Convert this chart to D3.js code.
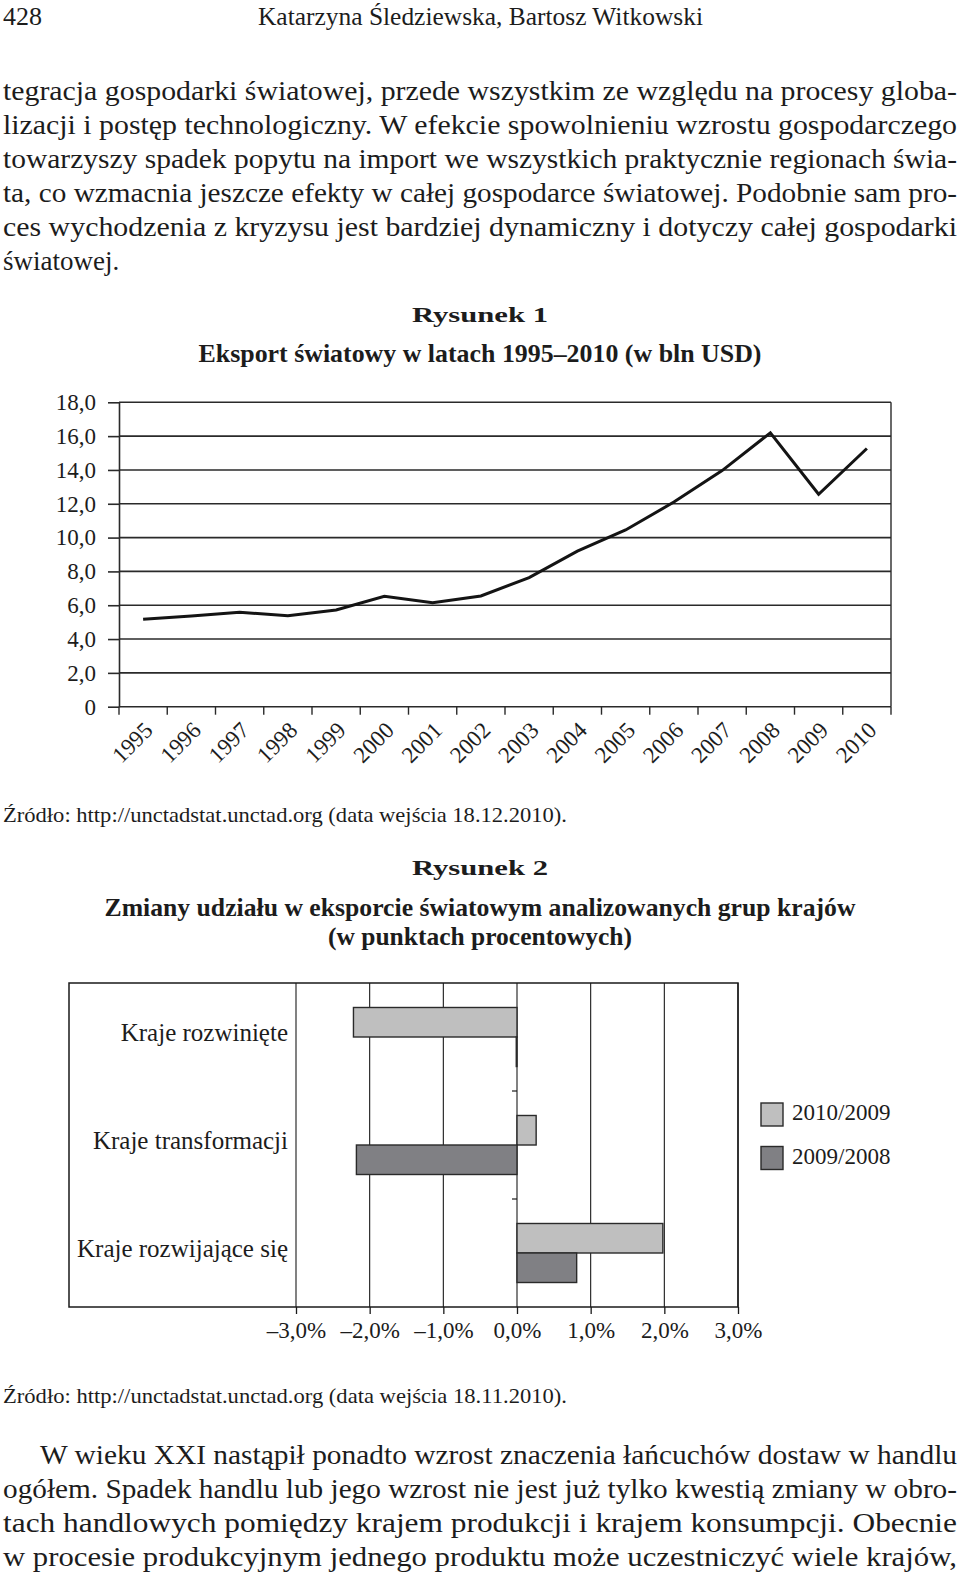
<!DOCTYPE html>
<html><head><meta charset="utf-8">
<script src="https://cdn.jsdelivr.net/npm/d3@7"></script>
<style>html,body{margin:0;padding:0;background:#fff}svg{display:block}</style>
</head><body><div id="page"></div>
<script>
// ---------- DATA ----------
const years = ["1995","1996","1997","1998","1999","2000","2001","2002","2003","2004","2005","2006","2007","2008","2009","2010"];
const exportValues = [5.17,5.36,5.58,5.38,5.72,6.53,6.15,6.55,7.63,9.2,10.45,12.1,13.96,16.2,12.56,15.27];
const yTicks1 = [0,2,4,6,8,10,12,14,16,18];
const yTickLabels1 = ["0","2,0","4,0","6,0","8,0","10,0","12,0","14,0","16,0","18,0"];

const groups = ["Kraje rozwinięte","Kraje transformacji","Kraje rozwijające się"];
const seriesNames = ["2010/2009","2009/2008"];
const change2010 = [-2.22, 0.26, 1.98];
const change2009 = [-0.01, -2.18, 0.81];
const xTicks2 = [-3,-2,-1,0,1,2,3];
const xTickLabels2 = ["–3,0%","–2,0%","–1,0%","0,0%","1,0%","2,0%","3,0%"];

const headerLeft = "428";
const headerCenter = "Katarzyna Śledziewska, Bartosz Witkowski";
const paraTop = [
 "tegracja gospodarki światowej, przede wszystkim ze względu na procesy globa-",
 "lizacji i postęp technologiczny. W efekcie spowolnieniu wzrostu gospodarczego",
 "towarzyszy spadek popytu na import we wszystkich praktycznie regionach świa-",
 "ta, co wzmacnia jeszcze efekty w całej gospodarce światowej. Podobnie sam pro-",
 "ces wychodzenia z kryzysu jest bardziej dynamiczny i dotyczy całej gospodarki",
 "światowej."
];
const paraBottom = [
 "W wieku XXI nastąpił ponadto wzrost znaczenia łańcuchów dostaw w handlu",
 "ogółem. Spadek handlu lub jego wzrost nie jest już tylko kwestią zmiany w obro-",
 "tach handlowych pomiędzy krajem produkcji i krajem konsumpcji. Obecnie",
 "w procesie produkcyjnym jednego produktu może uczestniczyć wiele krajów,"
];
const fig1Label = "Rysunek 1";
const fig1Title = "Eksport światowy w latach 1995–2010 (w bln USD)";
const fig2Label = "Rysunek 2";
const fig2Title = ["Zmiany udziału w eksporcie światowym analizowanych grup krajów","(w punktach procentowych)"];
const source1 = "Źródło: http://unctadstat.unctad.org (data wejścia 18.12.2010).";
const source2 = "Źródło: http://unctadstat.unctad.org (data wejścia 18.11.2010).";

// ---------- SETUP ----------
const W = 960, H = 1575;
const svg = d3.select("#page").append("svg").attr("width", W).attr("height", H);
svg.append("rect").attr("width", W).attr("height", H).attr("fill", "#fff");
const SERIF = "'Liberation Serif', 'Times New Roman', serif";
const INK = "#1c1c1c";

function txt(str, x, y, size, opts = {}) {
  const t = svg.append("text")
    .attr("x", x).attr("y", y)
    .attr("font-family", SERIF)
    .attr("font-size", size)
    .attr("fill", INK)
    .attr("text-anchor", opts.anchor || "start")
    .attr("font-weight", opts.bold ? "bold" : "normal")
    .text(str);
  if (opts.width) {
    t.attr("textLength", opts.width).attr("lengthAdjust", "spacingAndGlyphs");
  }
  return t;
}

// header
txt(headerLeft, 3, 25, 26, {width: 39});
txt(headerCenter, 480.5, 25, 26, {anchor: "middle", width: 445});

// top paragraph
paraTop.forEach((line, i) => {
  const last = i === paraTop.length - 1;
  txt(line, 3, 100 + 34 * i, 27, last ? {} : {width: 954});
});

// ---------- FIGURE 1 ----------
txt(fig1Label, 480, 322, 22, {anchor: "middle", bold: true, width: 136});
txt(fig1Title, 480, 362, 25, {anchor: "middle", bold: true, width: 563});

const x1 = d3.scaleBand().domain(years).range([119, 891]).padding(0);
const y1 = d3.scaleLinear().domain([0, 18]).range([706.7, 402.3]);
const g1 = svg.append("g");
const LINE = "#2a2a2a";

// gridlines
g1.selectAll("line.grid").data(yTicks1).join("line")
  .attr("x1", 119).attr("x2", 891)
  .attr("y1", d => y1(d)).attr("y2", d => y1(d))
  .attr("stroke", LINE).attr("stroke-width", 1.6);
// right border
g1.append("line").attr("x1", 891).attr("x2", 891).attr("y1", y1(18)).attr("y2", y1(0))
  .attr("stroke", LINE).attr("stroke-width", 1.4);

// left axis
const yAxis1 = d3.axisLeft(y1).tickValues(yTicks1)
  .tickFormat((d, i) => yTickLabels1[i]).tickSize(11).tickSizeOuter(0).tickPadding(12);
const ya = g1.append("g").attr("transform", "translate(119,0)").call(yAxis1);
ya.selectAll("path,line").attr("stroke", LINE).attr("stroke-width", 1.6);
ya.selectAll("text").attr("font-family", SERIF).attr("font-size", 23).attr("fill", INK);

// bottom ticks at band boundaries
const bounds = years.map(d => x1(d)).concat([x1.range()[1]]);
g1.selectAll("line.xt").data(bounds).join("line")
  .attr("x1", d => d).attr("x2", d => d)
  .attr("y1", y1(0)).attr("y2", y1(0) + 8)
  .attr("stroke", LINE).attr("stroke-width", 1.4);
g1.selectAll("text.xl").data(years).join("text")
  .attr("transform", d => `translate(${x1(d) + x1.bandwidth() / 2 + 11},${y1(0) + 25}) rotate(-45)`)
  .attr("text-anchor", "end")
  .attr("font-family", SERIF).attr("font-size", 23).attr("fill", INK)
  .text(d => d);

// data line
const line1 = d3.line().x((d, i) => x1(years[i]) + x1.bandwidth() / 2).y(d => y1(d));
g1.append("path").datum(exportValues).attr("d", line1)
  .attr("fill", "none").attr("stroke", "#141414").attr("stroke-width", 3)
  .attr("stroke-linejoin", "miter");

txt(source1, 3, 822, 22, {width: 564});

// ---------- FIGURE 2 ----------
txt(fig2Label, 480, 875, 22, {anchor: "middle", bold: true, width: 136});
txt(fig2Title[0], 480, 916, 25, {anchor: "middle", bold: true, width: 751});
txt(fig2Title[1], 480, 945, 25, {anchor: "middle", bold: true, width: 304});

const x2 = d3.scaleLinear().domain([-3, 3]).range([296, 738]);
const y2 = d3.scaleBand().domain(groups).range([983, 1307]).padding(0);
const ySub = d3.scaleBand().domain(seriesNames).range([0, y2.bandwidth()]).paddingInner(0).paddingOuter(0.83);
const fills = {"2010/2009": "#bfbfbf", "2009/2008": "#808084"};
const g2 = svg.append("g");

// frame
g2.append("rect").attr("x", 69).attr("y", 983).attr("width", 738 - 69).attr("height", 1307 - 983)
  .attr("fill", "none").attr("stroke", "#1a1a1a").attr("stroke-width", 1.5);
// vertical gridlines
g2.selectAll("line.vg").data(xTicks2).join("line")
  .attr("x1", d => x2(d)).attr("x2", d => x2(d))
  .attr("y1", 983).attr("y2", 1307)
  .attr("stroke", "#1a1a1a").attr("stroke-width", 1.1);
// bottom axis ticks + labels
const xAxis2 = d3.axisBottom(x2).tickValues(xTicks2)
  .tickFormat((d, i) => xTickLabels2[i]).tickSize(7).tickSizeOuter(0).tickPadding(8);
const xa2 = g2.append("g").attr("transform", "translate(0,1307)").call(xAxis2);
xa2.select("path").remove();
xa2.selectAll("line").attr("stroke", "#1a1a1a").attr("stroke-width", 1.3);
xa2.selectAll("text").attr("font-family", SERIF).attr("font-size", 23).attr("fill", INK);

// category separators on zero axis
g2.selectAll("line.cs").data(groups.slice(1)).join("line")
  .attr("x1", x2(0) - 5).attr("x2", x2(0))
  .attr("y1", d => y2(d)).attr("y2", d => y2(d))
  .attr("stroke", "#1a1a1a").attr("stroke-width", 1.2);

// bars
const barData = [];
groups.forEach((gname, i) => {
  barData.push({g: gname, s: seriesNames[0], v: change2010[i]});
  barData.push({g: gname, s: seriesNames[1], v: change2009[i]});
});
g2.selectAll("rect.bar").data(barData).join("rect")
  .attr("x", d => Math.min(x2(0), x2(d.v)))
  .attr("width", d => Math.abs(x2(d.v) - x2(0)))
  .attr("y", d => y2(d.g) + ySub(d.s))
  .attr("height", ySub.bandwidth())
  .attr("fill", d => fills[d.s])
  .attr("stroke", "#2a2a2a").attr("stroke-width", 1.4);

// category labels
g2.selectAll("text.cl").data(groups).join("text")
  .attr("x", 288).attr("y", d => y2(d) + y2.bandwidth() / 2 + 4)
  .attr("text-anchor", "end")
  .attr("font-family", SERIF).attr("font-size", 25).attr("fill", INK)
  .text(d => d);

// legend
seriesNames.forEach((s, i) => {
  const ly = 1103 + i * 43.5;
  g2.append("rect").attr("x", 761).attr("y", ly).attr("width", 22).attr("height", 23)
    .attr("fill", fills[s]).attr("stroke", "#2a2a2a").attr("stroke-width", 1.4);
  g2.append("text").attr("x", 792).attr("y", ly + 17)
    .attr("font-family", SERIF).attr("font-size", 23).attr("fill", INK).text(s);
});

txt(source2, 3, 1403, 22, {width: 564});

// bottom paragraph
paraBottom.forEach((line, i) => {
  const x0 = i === 0 ? 40 : 3;
  txt(line, x0, 1463.5 + 34 * i, 27, {width: 957 - x0});
});
</script>
</body></html>
